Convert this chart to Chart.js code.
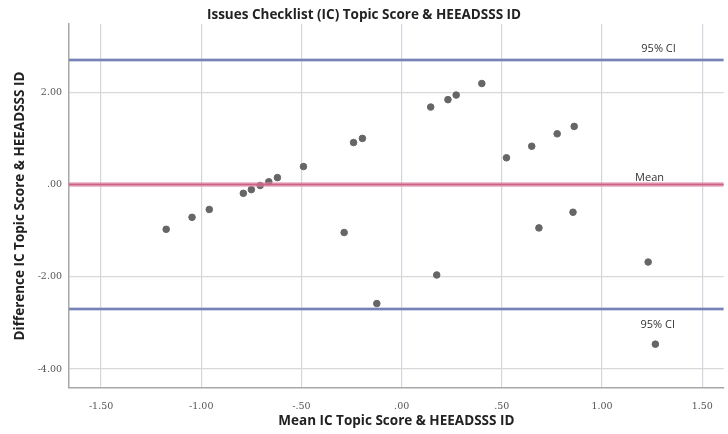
<!DOCTYPE html>
<html>
<head>
<meta charset="utf-8">
<script src="https://cdn.jsdelivr.net/npm/chart.js@4/dist/chart.umd.min.js"></script>
<style>
  html, body { margin: 0; padding: 0; background: #fff; }
  #bland { display: block; }
</style>
</head>
<body>
<canvas id="bland" width="728" height="434"></canvas>
<script>
// Bland-Altman values
const meanScores = [-1.175, -1.046, -0.96, -0.79, -0.75, -0.706, -0.663, -0.62, -0.49,
  -0.287, -0.24, -0.196, -0.124, 0.145, 0.175, 0.231, 0.272, 0.40, 0.523, 0.649,
  0.685, 0.776, 0.855, 0.861, 1.23, 1.266];
const diffScores = [-0.97, -0.71, -0.54, -0.19, -0.11, -0.02, 0.06, 0.15, 0.39,
  -1.04, 0.91, 1.0, -2.58, 1.68, -1.96, 1.84, 1.94, 2.19, 0.58, 0.83,
  -0.94, 1.10, -0.60, 1.26, -1.68, -3.46];

const meanDiff = 0.0;
const ciUpper = 2.70;
const ciLower = -2.70;

const xRange = [-1.66, 1.607];
const yRange = [-4.41, 3.48];

const refLabels = ['95% CI', 'Mean', '95% CI'];

const points = meanScores.map((m, i) => ({ x: m, y: diffScores[i] }));
const hline = v => [{ x: xRange[0], y: v }, { x: xRange[1], y: v }];

// format like SPSS: ".50", "-1.00"
function spssFmt(v) {
  let s = Math.abs(v).toFixed(2);
  if (s.startsWith('0')) s = s.slice(1);
  return (v < 0 ? '-' : '') + s;
}

// text next to the reference lines
const refLabelPlugin = {
  id: 'refLabels',
  afterDatasetsDraw(chart) {
    const { ctx, scales: { x, y } } = chart;
    ctx.save();
    ctx.font = '11px "Open Sans", sans-serif';
    ctx.fillStyle = '#333';
    ctx.textAlign = 'center';
    ctx.textBaseline = 'middle';
    ctx.fillText(refLabels[0], x.getPixelForValue(1.282), y.getPixelForValue(ciUpper) - 11);
    ctx.fillText(refLabels[1], x.getPixelForValue(1.237), y.getPixelForValue(meanDiff) - 7);
    ctx.fillText(refLabels[2], x.getPixelForValue(1.278), y.getPixelForValue(ciLower) + 16);
    ctx.restore();
  }
};

const lineStyle = (color, width) => ({
  type: 'line',
  borderColor: color,
  borderWidth: width,
  pointRadius: 0,
  fill: false,
  tension: 0
});

const titleFont = { family: '"Open Sans"', size: 13.5, weight: 'bold' };

new Chart(document.getElementById('bland'), {
  type: 'scatter',
  data: {
    datasets: [
      { ...lineStyle('rgba(150,160,205,0.45)', 4), data: hline(ciUpper) },
      { ...lineStyle('#5f6aa3', 2), data: hline(ciUpper) },
      { ...lineStyle('rgba(150,160,205,0.45)', 4), data: hline(ciLower) },
      { ...lineStyle('#5f6aa3', 2), data: hline(ciLower) },
      { ...lineStyle('rgba(230,140,170,0.55)', 5), data: hline(meanDiff) },
      { ...lineStyle('#b0305e', 2), data: hline(meanDiff) },
      {
        data: points,
        backgroundColor: '#666',
        borderColor: '#666',
        pointRadius: 3.3,
        pointHoverRadius: 3.3
      }
    ]
  },
  plugins: [refLabelPlugin],
  options: {
    responsive: false,
    animation: false,
    devicePixelRatio: 1,
    layout: { padding: 0 },
    plugins: {
      legend: { display: false },
      tooltip: { enabled: false },
      title: {
        display: true,
        text: 'Issues Checklist (IC) Topic Score & HEEADSSS ID',
        color: '#222',
        font: titleFont,
        padding: { top: 7, bottom: 0.8 }
      }
    },
    scales: {
      x: {
        type: 'linear',
        min: xRange[0],
        max: xRange[1],
        afterFit(scale) { scale.height = 46; },
        border: { display: true, color: '#a8a8a8', width: 1.5 },
        grid: { color: '#d4d6de', lineWidth: 1.2, drawTicks: false },
        ticks: {
          stepSize: 0.5,
          includeBounds: false,
          padding: 13,
          maxRotation: 0,
          color: '#555',
          font: { family: '"DejaVu Serif", serif', size: 9.5 },
          callback: v => spssFmt(v)
        },
        title: {
          display: true,
          text: 'Mean IC Topic Score & HEEADSSS ID',
          color: '#222',
          font: titleFont,
          padding: { top: 0, bottom: 5 }
        }
      },
      y: {
        type: 'linear',
        min: yRange[0],
        max: yRange[1],
        afterFit(scale) { scale.width = 69; },
        border: { display: true, color: '#a8a8a8', width: 1.5 },
        grid: { color: '#d8d8d8', lineWidth: 1.2, drawTicks: false },
        ticks: {
          stepSize: 2,
          includeBounds: false,
          padding: 7,
          color: '#555',
          font: { family: '"DejaVu Serif", serif', size: 9.5 },
          callback: v => spssFmt(v)
        },
        title: {
          display: true,
          text: 'Difference IC Topic Score & HEEADSSS ID',
          color: '#222',
          font: titleFont,
          padding: { top: 12, bottom: 0 }
        }
      }
    }
  }
});
</script>
</body>
</html>
